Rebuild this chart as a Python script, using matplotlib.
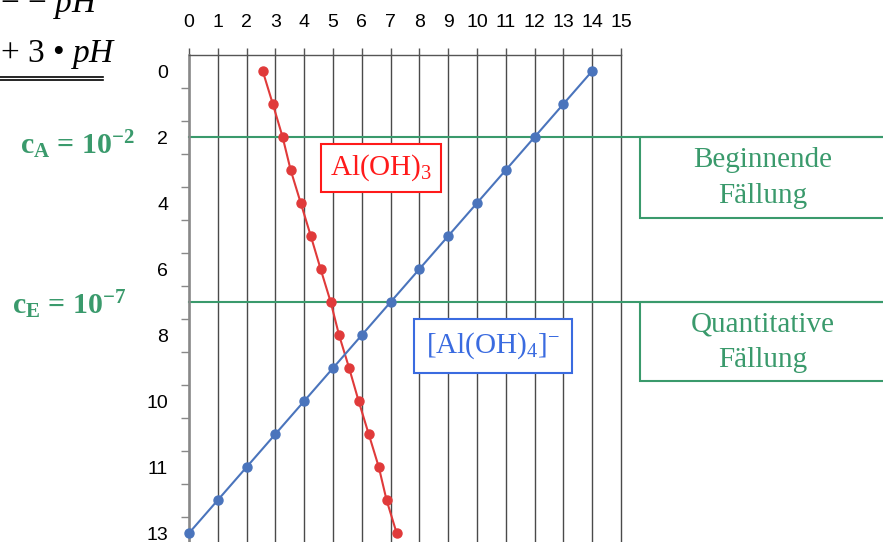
import matplotlib.pyplot as plt
import matplotlib.patches as mpatches
import numpy as np

plt.rcParams['mathtext.fontset'] = 'custom'
plt.rcParams['mathtext.rm'] = 'Liberation Serif'
plt.rcParams['mathtext.it'] = 'Liberation Serif:italic'
plt.rcParams['mathtext.bf'] = 'Liberation Serif:bold'

# pH on x, -log c on y
ph_blue = [0, 1, 2, 3, 4, 5, 6, 7, 8, 9, 10, 11, 12, 13, 14]
pc_blue = [14, 13, 12, 11, 10, 9, 8, 7, 6, 5, 4, 3, 2, 1, 0]
ph_red = [2.56, 2.91, 3.25, 3.53, 3.88, 4.23, 4.57, 4.92, 5.21, 5.56, 5.89, 6.24, 6.59, 6.86, 7.21]
pc_red = [0, 1, 2, 3, 4, 5, 6, 7, 8, 9, 10, 11, 12, 13, 14]

xticks = list(range(16))
yticks = [0, 2, 4, 6, 8, 10, 12, 14]
ylabels = ['0', '2', '4', '6', '8', '10', '11', '13']  # as printed on the original
limits = [2, 7]  # c_A = 10^-2, c_E = 10^-7

GREEN = '#3a9a6c'
RED_LINE = '#e03a3a'
BLUE_LINE = '#4a74bc'

W, H = 883, 542
fig = plt.figure(figsize=(W/100, H/100), dpi=100)

def fx(px):
    return px / W

def fy(py):
    return 1 - py / H

ax = fig.add_axes([fx(189), 0, fx(621) - fx(189), fy(55)])
ax.set_xlim(0, 15)
ax.set_ylim(14.27, -0.485)

for s in ['right', 'bottom']:
    ax.spines[s].set_visible(False)
ax.spines['left'].set_color('#888888')
ax.spines['left'].set_linewidth(1.8)
ax.spines['top'].set_color('#555555')
ax.spines['top'].set_linewidth(1.0)

ax.xaxis.tick_top()
ax.set_xticks(xticks)
ax.set_xticklabels([str(t) for t in xticks], fontsize=14, family='Liberation Sans')
ax.tick_params(axis='x', direction='out', length=5, width=1, color='#555555', pad=12)
for x in xticks:
    ax.axvline(x, color='#4a4a4a', lw=1.0, zorder=1, clip_on=False)

ax.set_yticks(yticks)
ax.set_yticklabels(ylabels, fontsize=14, family='Liberation Sans')
ax.set_yticks(np.arange(0.5, 14, 1.0), minor=True)
ax.tick_params(axis='y', which='major', length=0, pad=15)
ax.tick_params(axis='y', which='minor', direction='out', length=6, width=1, color='#888888')

for lim in limits:
    ax.plot([0, 25], [lim, lim], color=GREEN, lw=1.5, clip_on=False, zorder=2)

ax.plot(ph_red, pc_red, color=RED_LINE, lw=1.5, marker='o', ms=6.5, zorder=4)
ax.plot(ph_blue, pc_blue, color=BLUE_LINE, lw=1.5, marker='o', ms=6.5, zorder=4, clip_on=False)

# boxes on the right (open to the right edge)
for top, bottom in [(2, 4.45), (7, 9.39)]:
    ax.add_patch(mpatches.Rectangle((15.66, top), 12, bottom - top, fill=False,
                                    edgecolor=GREEN, lw=1.5, clip_on=False))

serif = 'Liberation Serif'
fig.text(fx(763), fy(160), 'Beginnende', color=GREEN, fontsize=21, family=serif, ha='center', va='center')
fig.text(fx(763), fy(196), 'Fällung', color=GREEN, fontsize=21, family=serif, ha='center', va='center')
fig.text(fx(763), fy(324), 'Quantitative', color=GREEN, fontsize=21, family=serif, ha='center', va='center')
fig.text(fx(763), fy(360), 'Fällung', color=GREEN, fontsize=21, family=serif, ha='center', va='center')

fig.text(fx(381), fy(168), r'Al(OH)$_{3}$', color='#ff1a1a', fontsize=21, family=serif,
         ha='center', va='center',
         bbox=dict(boxstyle='square,pad=0.3', fc='white', ec='#ff1a1a', lw=1.5))
fig.text(fx(493), fy(346), r'[Al(OH)$_{4}$]$^{-}$', color='#3a6be0', fontsize=21, family=serif,
         ha='center', va='center',
         bbox=dict(boxstyle='square,pad=0.4', fc='white', ec='#3a6be0', lw=1.5))

fig.text(fx(20), fy(145), r'c$_\mathbf{A}$ = 10$^\mathbf{-2}$', color=GREEN, fontsize=21.5,
         family=serif, fontweight='bold', ha='left', va='center')
fig.text(fx(12), fy(305), r'c$_\mathbf{E}$ = 10$^\mathbf{-7}$', color=GREEN, fontsize=21.5,
         family=serif, fontweight='bold', ha='left', va='center')

# fragment of the equation above the chart (cut by the top edge, as in the original)
fig.text(fx(0), fy(12), r'− − $\mathit{pH}$', fontsize=24, family=serif, ha='left', va='baseline')
fig.text(fx(0), fy(62), r'+ 3 • $\mathit{pH}$', fontsize=24, family=serif, ha='left', va='baseline')
fig.add_artist(plt.Line2D([0, fx(103)], [fy(76.5), fy(76.5)], color='black', lw=1.2))
fig.add_artist(plt.Line2D([0, fx(103)], [fy(80), fy(80)], color='black', lw=1.2))

fig.savefig('out.png', dpi=100)
